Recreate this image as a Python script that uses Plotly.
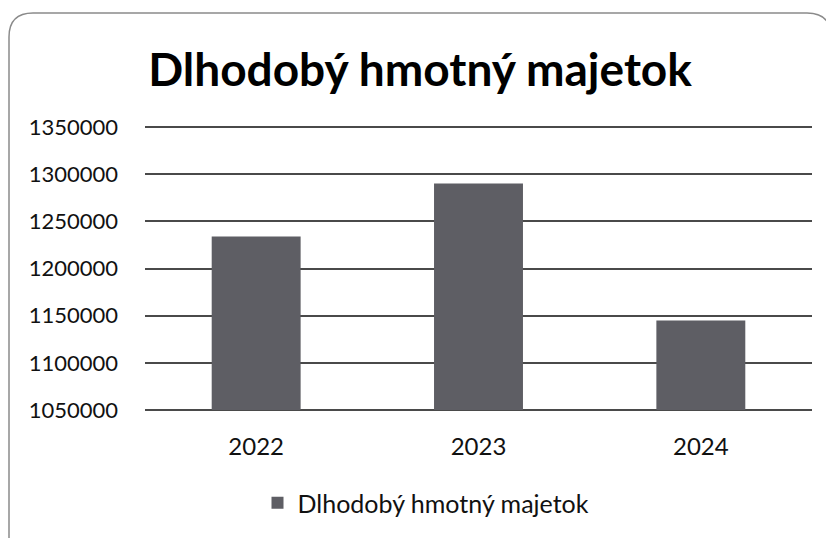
import plotly.graph_objects as go

categories = ["2022", "2023", "2024"]
values = [1234000, 1290000, 1145000]
axis_min = 1050000
series_name = "Dlhodobý hmotný majetok"
title_text = "Dlhodobý hmotný majetok"
y_ticks = [1050000, 1100000, 1150000, 1200000, 1250000, 1300000, 1350000]

# page has an 8px body margin; work in page coordinates and convert
OFF = 8
W, H = 834 - OFF, 538 - OFF
PL, PR, PT, PB = 145, 812, 127, 410   # plot area in page px (1350000 at PT, 1050000 at PB)
PAD = 3
L = PL - OFF
R = W - (PR - OFF)
T = PT - OFF - PAD
B = H - (PB - OFF) - PAD
pw, ph = W - L - R, H - T - B
per_px = 300000 / (PB - PT)
y_lo = 1050000 - PAD * per_px
y_hi = 1350000 + PAD * per_px

def px(x):
    return (x - OFF - L) / pw

def py(y):
    return (H - B - (y - OFF)) / ph

fig = go.Figure()
fig.add_trace(go.Bar(
    x=categories, y=[v - axis_min for v in values], base=axis_min, name=series_name,
    customdata=values, hovertemplate="%{x}: %{customdata}<extra></extra>",
    marker=dict(color="#5e5e64", line=dict(width=0)),
    showlegend=True,
))

# rounded border (page coords)
x0, y0, x1, y1, r = 9, 13, 831, 546, 24
path = (f"M {px(x0)},{py(y0 + r)} Q {px(x0)},{py(y0)} {px(x0 + r)},{py(y0)} "
        f"L {px(x1 - r)},{py(y0)} Q {px(x1)},{py(y0)} {px(x1)},{py(y0 + r)} "
        f"L {px(x1)},{py(y1)} L {px(x0)},{py(y1)} Z")
fig.add_shape(type="path", path=path, xref="paper", yref="paper",
              line=dict(color="#8a8a8a", width=1.5), layer="below")

fig.update_layout(
    width=W, height=H,
    margin=dict(l=L, r=R, t=T, b=B, autoexpand=False),
    paper_bgcolor="white", plot_bgcolor="white",
    font=dict(family="Lato, Open Sans, sans-serif", color="#111111"),
    title=dict(text=f"<b>{title_text}</b>", x=px(420), xanchor="center",
               xref="paper",
               y=1 - (70 - OFF) / H, yanchor="middle", yref="container",
               font=dict(size=46, family="Lato", color="#000000")),
    bargap=0.6,
    showlegend=True,
    legend=dict(orientation="h", x=px(426), xanchor="center", y=py(503), yanchor="middle",
                font=dict(size=25, color="#111111"), itemwidth=30,
                bgcolor="rgba(0,0,0,0)"),
    xaxis=dict(showgrid=False, showline=False, ticks="", tickfont=dict(size=24),
               ticklabelstandoff=17, automargin=False),
    yaxis=dict(range=[y_lo, y_hi], tickvals=y_ticks,
               ticktext=[str(v) for v in y_ticks],
               showgrid=True, gridcolor="#4a4a4a", gridwidth=1.5,
               zeroline=False, showline=False, ticks="",
               tickfont=dict(size=22), ticklabelstandoff=26, automargin=False),
)

fig.write_html("out.html")
